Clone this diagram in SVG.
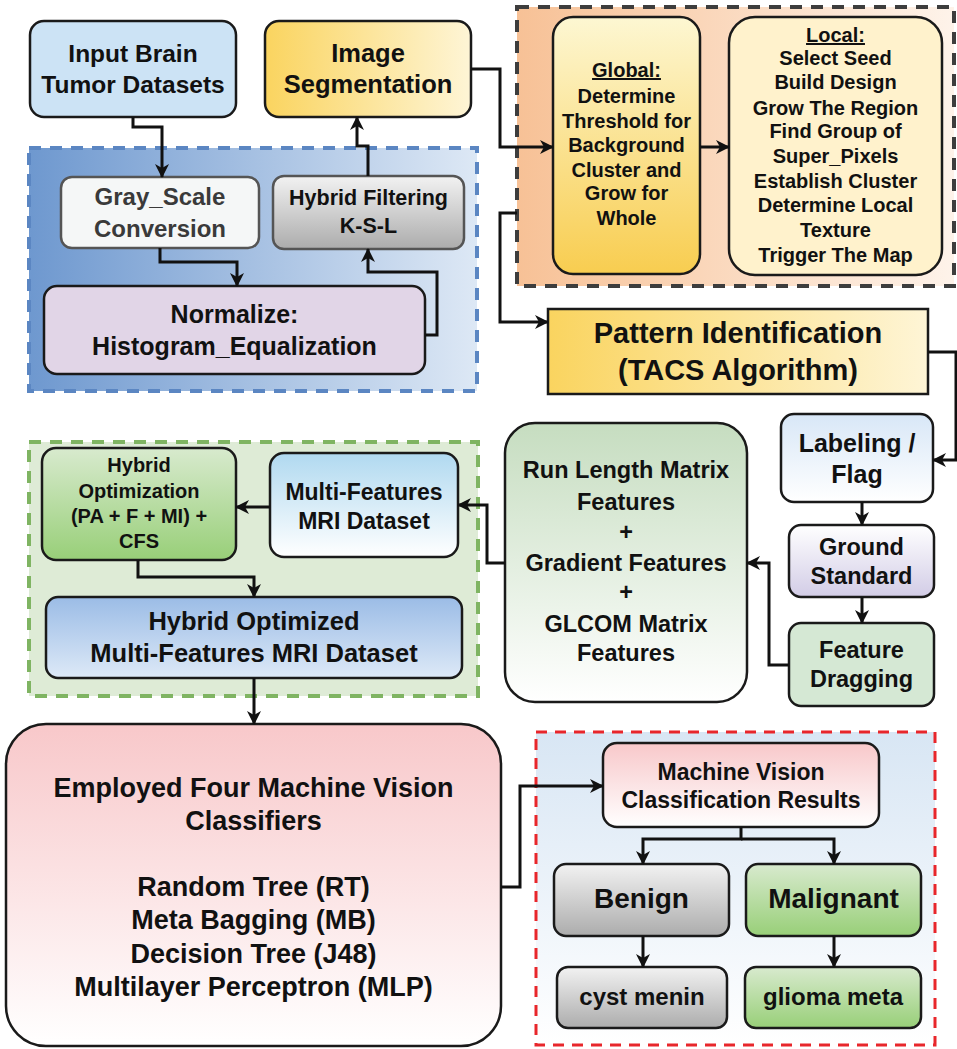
<svg xmlns="http://www.w3.org/2000/svg" width="957" height="1049" viewBox="0 0 957 1049">
<defs>
<linearGradient id="gBlueCont" x1="0" y1="0" x2="1" y2="0"><stop offset="0" stop-color="#6e98cf"/><stop offset="1" stop-color="#dde8f5"/></linearGradient>
<linearGradient id="gOrangeCont" x1="0" y1="0" x2="1" y2="0"><stop offset="0" stop-color="#f7c196"/><stop offset="1" stop-color="#fef3ea"/></linearGradient>
<linearGradient id="gRedCont" x1="0" y1="0" x2="0" y2="1"><stop offset="0" stop-color="#d8e6f4"/><stop offset="1" stop-color="#ffffff"/></linearGradient>
<linearGradient id="gGoldH" x1="0" y1="0" x2="1" y2="0"><stop offset="0" stop-color="#fad45f"/><stop offset="1" stop-color="#fef5d6"/></linearGradient>
<linearGradient id="gGoldV" x1="0" y1="0" x2="0" y2="1"><stop offset="0" stop-color="#fdf7d2"/><stop offset="1" stop-color="#f8cd50"/></linearGradient>
<linearGradient id="gGray" x1="0" y1="0" x2="0" y2="1"><stop offset="0" stop-color="#f2f2f2"/><stop offset="1" stop-color="#acacac"/></linearGradient>
<linearGradient id="gGreen" x1="0" y1="0" x2="0" y2="1"><stop offset="0" stop-color="#d8eace"/><stop offset="1" stop-color="#98cf78"/></linearGradient>
<linearGradient id="gLtBlue" x1="0" y1="0" x2="0" y2="1"><stop offset="0" stop-color="#b0d9f0"/><stop offset="1" stop-color="#ffffff"/></linearGradient>
<linearGradient id="gLabel" x1="0" y1="0" x2="0" y2="1"><stop offset="0" stop-color="#d8e7f7"/><stop offset="1" stop-color="#ffffff"/></linearGradient>
<linearGradient id="gGround" x1="0" y1="0" x2="0" y2="1"><stop offset="0" stop-color="#ffffff"/><stop offset="1" stop-color="#d2cce6"/></linearGradient>
<linearGradient id="gRun" x1="0" y1="0" x2="0" y2="1"><stop offset="0" stop-color="#c6ddc0"/><stop offset="1" stop-color="#ffffff"/></linearGradient>
<linearGradient id="gHybOpt" x1="0" y1="0" x2="0" y2="1"><stop offset="0" stop-color="#9bbce6"/><stop offset="1" stop-color="#dde9f7"/></linearGradient>
<linearGradient id="gPink" x1="0" y1="0" x2="0" y2="1"><stop offset="0" stop-color="#f8c8ca"/><stop offset="1" stop-color="#ffffff"/></linearGradient>
<marker id="arr" viewBox="0 0 14 14" refX="13" refY="7" markerWidth="14" markerHeight="14" markerUnits="userSpaceOnUse" orient="auto">
<path d="M0,0 L14,7 L0,14 L4,7 z" fill="#111"/>
</marker>
</defs>
<style>
.t{font-family:"Liberation Sans",Arial,sans-serif;font-weight:bold;fill:#111;text-anchor:middle}
.box{stroke:#1a1a1a;stroke-width:2.5}
.gbox{stroke:#555;stroke-width:2.5}
.con{fill:none;stroke:#111;stroke-width:3;marker-end:url(#arr)}
.line{fill:none;stroke:#111;stroke-width:3}
</style>

<!-- containers -->
<g id="blueContainer"><rect x="29" y="148" width="448" height="243" fill="url(#gBlueCont)" stroke="#5b86c2" stroke-width="4" stroke-dasharray="12,9"/></g>
<g id="orangeContainer"><rect x="517" y="7" width="437" height="279" fill="url(#gOrangeCont)" stroke="#3d3d3d" stroke-width="4" stroke-dasharray="12,9"/></g>
<g id="greenContainer"><rect x="29" y="442" width="449" height="254" fill="#deebd6" stroke="#7fb462" stroke-width="4" stroke-dasharray="12,9"/></g>
<g id="redContainer"><rect x="536" y="732" width="399" height="313" fill="url(#gRedCont)" stroke="#e8262b" stroke-width="3" stroke-dasharray="11,8"/></g>

<!-- nodes -->
<g id="input"><rect class="box" x="30" y="21" width="206" height="96" rx="14" fill="#cce3f5"/>
<text class="t" font-size="24.5" x="133" y="62">Input Brain</text><text class="t" font-size="24.5" x="133" y="93">Tumor Datasets</text></g>

<g id="imageSeg"><rect class="box" x="265" y="21" width="206" height="96" rx="14" fill="url(#gGoldH)"/>
<text class="t" font-size="25.5" x="368" y="62">Image</text><text class="t" font-size="25.5" x="368" y="93">Segmentation</text></g>

<g id="grayScale"><rect class="gbox" x="61" y="177" width="198" height="71" rx="11" fill="#f5f7f7"/>
<text class="t" font-size="24" x="160" y="205" style="fill:#3a3a3a">Gray_Scale</text><text class="t" font-size="24" x="160" y="237" style="fill:#3a3a3a">Conversion</text></g>

<g id="hybridFilter"><rect class="gbox" x="273" y="176" width="191" height="73" rx="11" fill="url(#gGray)"/>
<text class="t" font-size="21.5" x="368.5" y="205">Hybrid Filtering</text><text class="t" font-size="21.5" x="368.5" y="233">K-S-L</text></g>

<g id="normalize"><rect class="box" x="44" y="286" width="381" height="88" rx="13" fill="#e1d5e7"/>
<text class="t" font-size="25" x="234.5" y="323">Normalize:</text><text class="t" font-size="25" x="234.5" y="355">Histogram_Equalization</text></g>

<g id="global"><rect class="box" x="553" y="17" width="147" height="257" rx="20" fill="url(#gGoldV)" stroke-width="3"/>
<text class="t" font-size="20" x="626.5" y="77" style="text-decoration:underline">Global:</text>
<text class="t" font-size="20" x="626.5" y="103">Determine</text>
<text class="t" font-size="20" x="626.5" y="128">Threshold for</text>
<text class="t" font-size="20" x="626.5" y="152">Background</text>
<text class="t" font-size="20" x="626.5" y="177">Cluster and</text>
<text class="t" font-size="20" x="626.5" y="200">Grow for</text>
<text class="t" font-size="20" x="626.5" y="225">Whole</text></g>

<g id="local"><rect class="box" x="729" y="17" width="213" height="258" rx="26" fill="#fff2cc"/>
<text class="t" font-size="20" x="835.5" y="42" style="text-decoration:underline">Local:</text>
<text class="t" font-size="20" x="835.5" y="65">Select Seed</text>
<text class="t" font-size="20" x="835.5" y="89">Build Design</text>
<text class="t" font-size="20" x="835.5" y="115">Grow The Region</text>
<text class="t" font-size="20" x="835.5" y="138">Find Group of</text>
<text class="t" font-size="20" x="835.5" y="163">Super_Pixels</text>
<text class="t" font-size="20" x="835.5" y="188">Establish Cluster</text>
<text class="t" font-size="20" x="835.5" y="212">Determine Local</text>
<text class="t" font-size="20" x="835.5" y="237">Texture</text>
<text class="t" font-size="20" x="835.5" y="262">Trigger The Map</text></g>

<g id="pattern"><rect class="box" x="548" y="309" width="380" height="85" fill="url(#gGoldH)"/>
<text class="t" font-size="29" x="738" y="343">Pattern Identification</text><text class="t" font-size="29" x="738" y="380">(TACS Algorithm)</text></g>

<g id="labeling"><rect class="box" x="781" y="414" width="152" height="88" rx="13" fill="url(#gLabel)"/>
<text class="t" font-size="25" x="857" y="452">Labeling /</text><text class="t" font-size="25" x="857" y="483">Flag</text></g>

<g id="ground"><rect class="box" x="789" y="525" width="145" height="72" rx="12" fill="url(#gGround)"/>
<text class="t" font-size="23.5" x="861.5" y="555">Ground</text><text class="t" font-size="23.5" x="861.5" y="584">Standard</text></g>

<g id="feature"><rect class="box" x="789" y="623" width="145" height="83" rx="12" fill="#d5e8d4"/>
<text class="t" font-size="23.5" x="861.5" y="658">Feature</text><text class="t" font-size="23.5" x="861.5" y="687">Dragging</text></g>

<g id="runLength"><rect class="box" x="505" y="423" width="242" height="279" rx="30" fill="url(#gRun)"/>
<text class="t" font-size="23.5" x="626" y="478">Run Length Matrix</text>
<text class="t" font-size="23.5" x="626" y="510">Features</text>
<text class="t" font-size="23.5" x="626" y="540">+</text>
<text class="t" font-size="23.5" x="626" y="571">Gradient Features</text>
<text class="t" font-size="23.5" x="626" y="600">+</text>
<text class="t" font-size="23.5" x="626" y="632">GLCOM Matrix</text>
<text class="t" font-size="23.5" x="626" y="661">Features</text></g>

<g id="hybridOpt"><rect class="box" x="42" y="448" width="194" height="112" rx="14" fill="url(#gGreen)"/>
<text class="t" font-size="20" x="139" y="472">Hybrid</text>
<text class="t" font-size="20" x="139" y="498">Optimization</text>
<text class="t" font-size="20" x="139" y="523">(PA + F + MI) +</text>
<text class="t" font-size="20" x="139" y="548">CFS</text></g>

<g id="multiFeat"><rect class="box" x="270" y="453" width="188" height="104" rx="14" fill="url(#gLtBlue)"/>
<text class="t" font-size="23" x="364" y="500">Multi-Features</text><text class="t" font-size="23" x="364" y="529">MRI Dataset</text></g>

<g id="hybridOptimized"><rect class="box" x="46" y="597" width="416" height="81" rx="12" fill="url(#gHybOpt)"/>
<text class="t" font-size="25.5" x="254" y="630">Hybrid Optimized</text><text class="t" font-size="25.5" x="254" y="662">Multi-Features MRI Dataset</text></g>

<g id="employed"><rect class="box" x="6" y="724" width="495" height="322" rx="40" fill="url(#gPink)"/>
<text class="t" font-size="27" x="253.5" y="797">Employed Four Machine Vision</text>
<text class="t" font-size="27" x="253.5" y="830">Classifiers</text>
<text class="t" font-size="27" x="253.5" y="896">Random Tree (RT)</text>
<text class="t" font-size="27" x="253.5" y="929">Meta Bagging (MB)</text>
<text class="t" font-size="27" x="253.5" y="963">Decision Tree (J48)</text>
<text class="t" font-size="27" x="253.5" y="996">Multilayer Perceptron (MLP)</text></g>

<g id="mvResults"><rect class="box" x="603" y="743" width="276" height="84" rx="14" fill="url(#gPink)"/>
<text class="t" font-size="23" x="741" y="780">Machine Vision</text><text class="t" font-size="23" x="741" y="808">Classification Results</text></g>

<g id="benign"><rect class="box" x="554" y="864" width="175" height="72" rx="12" fill="url(#gGray)"/>
<text class="t" font-size="28" x="641.5" y="908">Benign</text></g>

<g id="malignant"><rect class="box" x="746" y="864" width="175" height="72" rx="12" fill="url(#gGreen)"/>
<text class="t" font-size="28" x="833.5" y="908">Malignant</text></g>

<g id="cyst"><rect class="box" x="557" y="967" width="170" height="61" rx="11" fill="url(#gGray)"/>
<text class="t" font-size="24" x="642" y="1005">cyst menin</text></g>

<g id="glioma"><rect class="box" x="745" y="967" width="176" height="61" rx="11" fill="url(#gGreen)"/>
<text class="t" font-size="24" x="833" y="1005">glioma meta</text></g>

<!-- connectors -->
<g id="connectors">
<path class="con" d="M133,117 V127 H162 V177"/>
<path class="con" d="M160,248 V262 H237 V286"/>
<path class="con" d="M425,335 H437 V272 H368 V249"/>
<path class="con" d="M368,176 V146 H357 V117"/>
<path class="con" d="M471,69 H500 V147 H553"/>
<path class="con" d="M700,147 H729"/>
<path class="con" d="M517,213 H500 V322 H548"/>
<path class="con" d="M928,352 H956 V460 H933"/>
<path class="con" d="M862,502 V525"/>
<path class="con" d="M862,597 V623"/>
<path class="con" d="M789,665 H769 V563 H747"/>
<path class="con" d="M505,563 H487 V505 H458"/>
<path class="con" d="M270,507 H236"/>
<path class="con" d="M138,560 V577 H254 V597"/>
<path class="con" d="M254,678 V724"/>
<path class="con" d="M501,887 H520 V786 H603"/>
<path class="con" d="M741,827 V839 H643 V864"/>
<path class="con" d="M741,839 H834 V864"/>
<path class="con" d="M643,936 V967"/>
<path class="con" d="M834,936 V967"/>
</g>
</svg>
